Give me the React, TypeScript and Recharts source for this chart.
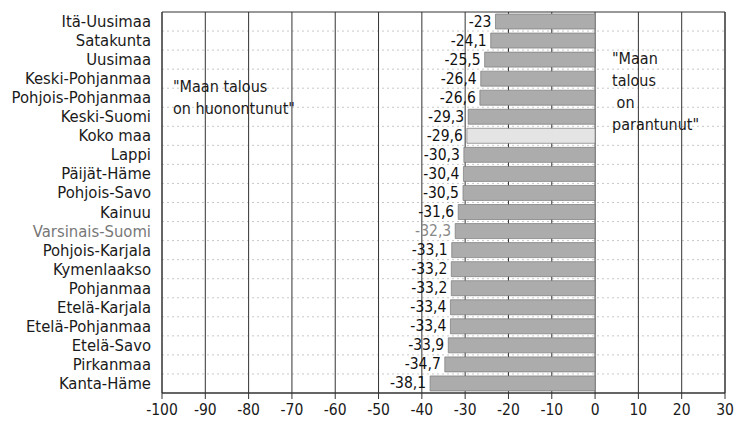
import { Bar, BarChart, CartesianGrid, Cell, LabelList, ReferenceArea, XAxis, YAxis } from "recharts";

const regions = [
  "Itä-Uusimaa", "Satakunta", "Uusimaa", "Keski-Pohjanmaa", "Pohjois-Pohjanmaa",
  "Keski-Suomi", "Koko maa", "Lappi", "Päijät-Häme", "Pohjois-Savo", "Kainuu",
  "Varsinais-Suomi", "Pohjois-Karjala", "Kymenlaakso", "Pohjanmaa", "Etelä-Karjala",
  "Etelä-Pohjanmaa", "Etelä-Savo", "Pirkanmaa", "Kanta-Häme",
];
const balance = [
  -23, -24.1, -25.5, -26.4, -26.6, -29.3, -29.6, -30.3, -30.4, -30.5, -31.6,
  -32.3, -33.1, -33.2, -33.2, -33.4, -33.4, -33.9, -34.7, -38.1,
];
const xTicks = [-100, -90, -80, -70, -60, -50, -40, -30, -20, -10, 0, 10, 20, 30];

const data = regions.map((name, i) => ({ name, value: balance[i] }));

const FONT = "'Liberation Sans Narrow', 'DejaVu Sans Condensed', 'Arial Narrow', sans-serif";

const ValueLabel = (props: any) => {
  const { x, y, width, height, value, index } = props;
  const left = width < 0 ? x + width : x;
  const grey = regions[index] === "Varsinais-Suomi";
  return (
    <text
      x={left - 4}
      y={y + height / 2 + 5}
      textAnchor="end"
      fontSize={15.5}
      fontFamily={FONT}
      fill={grey ? "#888" : "#111"}
    >
      {String(value).replace(".", ",")}
    </text>
  );
};

const CategoryTick = (props: any) => {
  const { x, y, payload } = props;
  const grey = payload.value === "Varsinais-Suomi";
  return (
    <text x={x} y={y + 5.5} textAnchor="end" fontSize={16.5} fontFamily={FONT} fill={grey ? "#777" : "#1a1a1a"}>
      {payload.value}
    </text>
  );
};

const note = { position: "absolute" as const, fontSize: 16, fontFamily: FONT, color: "#1a1a1a", lineHeight: "22px", whiteSpace: "pre" as const };

export default function App() {
  return (
    <div style={{ position: "relative", width: 735, height: 423, overflow: "hidden" }}>
      <style>{"body{margin:0}.recharts-surface{overflow:visible}"}</style>
      <BarChart
        width={735}
        height={423}
        data={data}
        layout="vertical"
        margin={{ top: 12, right: 10, left: 8, bottom: 0 }}
        barCategoryGap={2}
      >
        <CartesianGrid
          horizontal={true}
          vertical={false}
          stroke="#c8c8c8"
          strokeDasharray="2 3"
          horizontalCoordinatesGenerator={({ offset }: any) =>
            regions.map((_, i) => offset.top + (i * offset.height) / regions.length).slice(1)
          }
        />
        <CartesianGrid horizontal={false} vertical={true} stroke="#333" />
        <XAxis
          type="number"
          domain={[-100, 30]}
          ticks={xTicks}
          interval={0}
          tickSize={6}
          tickMargin={5}
          height={30}
          stroke="#333"
          tick={{ fontSize: 15.5, fontFamily: FONT, fill: "#1a1a1a" }}
        />
        <YAxis
          type="category"
          dataKey="name"
          width={154}
          tickLine={false}
          axisLine={false}
          tickMargin={5}
          interval={0}
          tick={<CategoryTick />}
        />
        <ReferenceArea x1={-100} x2={30} fill="none" stroke="#333" strokeWidth={1} ifOverflow="visible" />
        <Bar dataKey="value" isAnimationActive={false} stroke="#7a7a7a" strokeWidth={0.7}>
          {data.map((d) => (
            <Cell key={d.name} fill={d.name === "Koko maa" ? "#e4e4e4" : "#acacac"} />
          ))}
          <LabelList dataKey="value" content={<ValueLabel />} />
        </Bar>
      </BarChart>
      <div style={{ ...note, left: 173, top: 76 }}>{"\"Maan talous\non huonontunut\""}</div>
      <div style={{ ...note, left: 612, top: 48 }}>{"\"Maan\ntalous\n on\nparantunut\""}</div>
    </div>
  );
}
